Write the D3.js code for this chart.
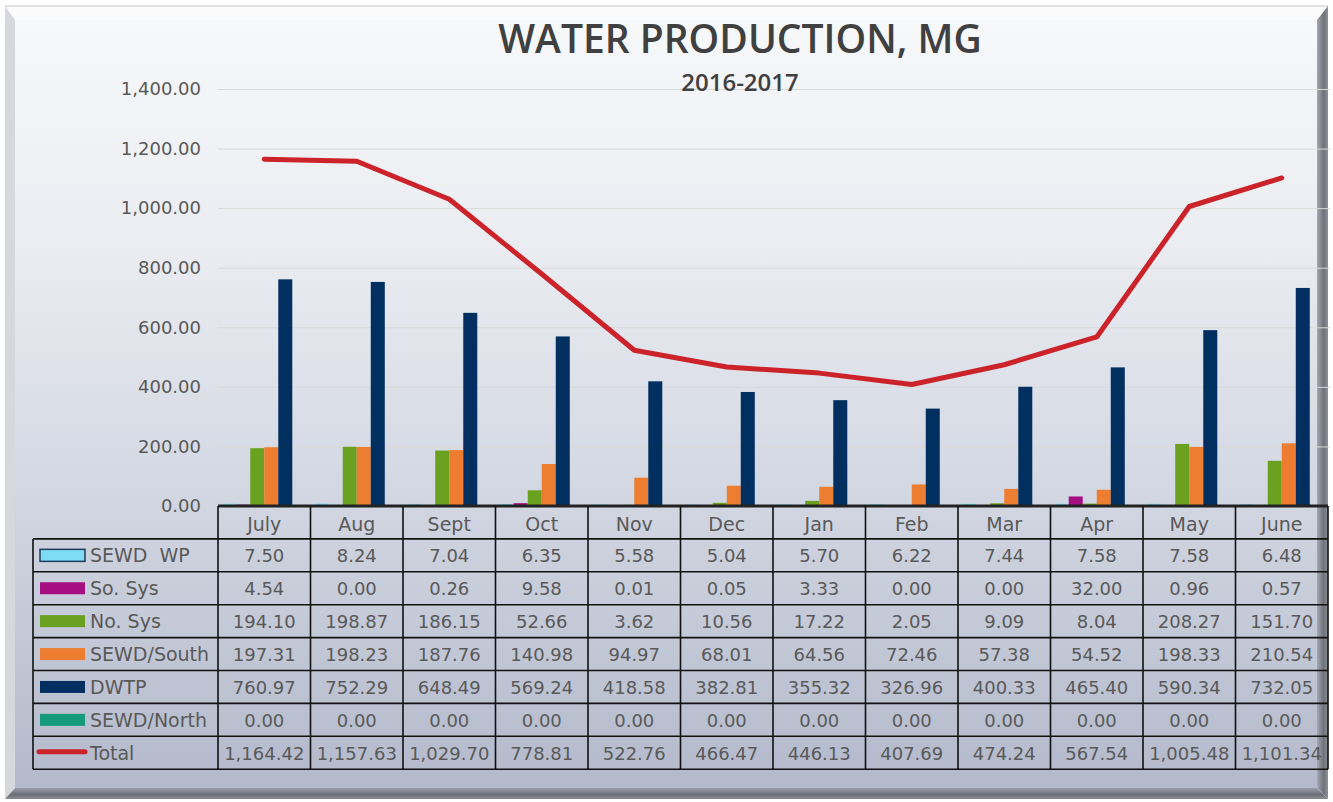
<!DOCTYPE html>
<html>
<head>
<meta charset="utf-8">
<script src="https://cdn.jsdelivr.net/npm/d3@7"></script>
<style>
  body { margin: 0; background: #fff; }
  text { font-family: 'DejaVu Sans', sans-serif; }
</style>
</head>
<body>
<div id="svg"></div>
<script>
let months = ['July', 'Aug', 'Sept', 'Oct', 'Nov', 'Dec', 'Jan', 'Feb', 'Mar', 'Apr', 'May', 'June']
let seriesNames = ['SEWD  WP', 'So. Sys', 'No. Sys', 'SEWD/South', 'DWTP', 'SEWD/North']
let sewdWP = [7.50, 8.24, 7.04, 6.35, 5.58, 5.04, 5.70, 6.22, 7.44, 7.58, 7.58, 6.48]
let soSys = [4.54, 0.00, 0.26, 9.58, 0.01, 0.05, 3.33, 0.00, 0.00, 32.00, 0.96, 0.57]
let noSys = [194.10, 198.87, 186.15, 52.66, 3.62, 10.56, 17.22, 2.05, 9.09, 8.04, 208.27, 151.70]
let sewdSouth = [197.31, 198.23, 187.76, 140.98, 94.97, 68.01, 64.56, 72.46, 57.38, 54.52, 198.33, 210.54]
let dwtp = [760.97, 752.29, 648.49, 569.24, 418.58, 382.81, 355.32, 326.96, 400.33, 465.40, 590.34, 732.05]
let sewdNorth = [0, 0, 0, 0, 0, 0, 0, 0, 0, 0, 0, 0]
let total = [1164.42, 1157.63, 1029.70, 778.81, 522.76, 466.47, 446.13, 407.69, 474.24, 567.54, 1005.48, 1101.34]
let yTicks = [0, 200, 400, 600, 800, 1000, 1200, 1400]

let seriesValues = [sewdWP, soSys, noSys, sewdSouth, dwtp, sewdNorth]
let colors = ['#7fdcf5', '#a50f82', '#6aa121', '#ed7d31', '#002f60', '#159b7c']
let lineColor = '#cc2229'

let W = 1333, H = 802
let plot = {left: 218, right: 1328, top: 89, bottom: 506}
let rowH = 32.9
let tableTop = plot.bottom

let svg = d3.select('#svg')
.append('svg')
.attr('width', W)
.attr('height', H)

let defs = svg.append('defs')
let grad = defs.append('linearGradient').attr('id', 'face').attr('x1', 0).attr('y1', 0).attr('x2', 0).attr('y2', 1)
grad.append('stop').attr('offset', '0%').attr('stop-color', '#f7f8fa')
grad.append('stop').attr('offset', '30%').attr('stop-color', '#eaecf1')
grad.append('stop').attr('offset', '60%').attr('stop-color', '#d4d8e3')
grad.append('stop').attr('offset', '100%').attr('stop-color', '#b3b9cb')

let gRight = defs.append('linearGradient').attr('id', 'bevR').attr('x1', 0).attr('y1', 0).attr('x2', 1).attr('y2', 0)
gRight.append('stop').attr('offset', '0%').attr('stop-color', '#a5a8b0')
gRight.append('stop').attr('offset', '60%').attr('stop-color', '#6f7279')
gRight.append('stop').attr('offset', '100%').attr('stop-color', '#8d9096')

let gBot = defs.append('linearGradient').attr('id', 'bevB').attr('x1', 0).attr('y1', 0).attr('x2', 0).attr('y2', 1)
gBot.append('stop').attr('offset', '0%').attr('stop-color', '#9a9eaa')
gBot.append('stop').attr('offset', '60%').attr('stop-color', '#6c6f78')
gBot.append('stop').attr('offset', '100%').attr('stop-color', '#8a8c92')

// frame with bevel
let fx0 = 5, fy0 = 6, fx1 = 1328, fy1 = 799
let ix0 = 15, iy0 = 20, ix1 = 1317, iy1 = 788
svg.append('polygon').attr('points', `${fx0},${fy0} ${fx1},${fy0} ${ix1},${iy0} ${ix0},${iy0}`).attr('fill', '#fbfbfc')
svg.append('polygon').attr('points', `${fx0},${fy0} ${ix0},${iy0} ${ix0},${iy1} ${fx0},${fy1}`).attr('fill', '#d6d8de')
svg.append('polygon').attr('points', `${fx1},${fy0} ${fx1},${fy1} ${ix1},${iy1} ${ix1},${iy0}`).attr('fill', 'url(#bevR)')
svg.append('polygon').attr('points', `${fx0},${fy1} ${ix0},${iy1} ${ix1},${iy1} ${fx1},${fy1}`).attr('fill', 'url(#bevB)')
svg.append('rect').attr('x', ix0).attr('y', iy0).attr('width', ix1 - ix0).attr('height', iy1 - iy0).attr('fill', 'url(#face)')
svg.append('line').attr('x1', fx0).attr('x2', fx1).attr('y1', fy0).attr('y2', fy0).style('stroke', '#c6c6c6')

// scales
let x = d3.scaleBand()
.domain(months)
.range([plot.left, plot.right])

let xs = d3.scaleBand()
.domain(seriesNames)
.range([0, x.bandwidth()])
.paddingOuter(0.3)

let y = d3.scaleLinear()
.domain([0, 1400])
.range([plot.bottom, plot.top])

// gridlines and y labels
svg.append('g')
.attr('transform', `translate(${plot.left}, 0)`)
.call(d3.axisLeft(y).tickValues(yTicks).tickSize(-(1330 - plot.left)).tickFormat(d3.format(',.2f')).tickPadding(17))
.call(g => g.select('.domain').remove())
.call(g => g.selectAll('line').style('stroke', '#d9d9d9'))
.call(g => g.selectAll('text').style('font-size', '18px').style('fill', '#595959').style('font-family', 'DejaVu Sans'))

// title
svg.append('text')
.text('WATER PRODUCTION, MG')
.attr('x', 740).attr('y', 53)
.style('text-anchor', 'middle')
.style('font-family', 'Open Sans')
.style('font-weight', 600)
.style('font-size', '39px')
.style('fill', '#404040')

svg.append('text')
.text('2016-2017')
.attr('x', 740).attr('y', 91)
.style('text-anchor', 'middle')
.style('font-family', 'Open Sans')
.style('font-weight', 600)
.style('font-size', '24px')
.style('fill', '#404040')

// bars
let barData = []
seriesNames.forEach((s, i) => {
	months.forEach((m, j) => barData.push({series: s, month: m, value: seriesValues[i][j], color: colors[i]}))
})

svg.selectAll('.bar')
.data(barData)
.join('rect')
.attr('class', 'bar')
.attr('x', d => x(d.month) + xs(d.series))
.attr('width', xs.bandwidth())
.attr('y', d => y(d.value))
.attr('height', d => y(0) - y(d.value))
.style('fill', d => d.color)

// total line
let lineFunc = d3.line()
.x((d, i) => x(months[i]) + x.bandwidth() / 2)
.y(d => y(d))

svg.append('path')
.datum(total)
.attr('d', lineFunc)
.style('fill', 'none')
.style('stroke', lineColor)
.style('stroke-width', 5)
.style('stroke-linecap', 'round')
.style('stroke-linejoin', 'round')

// data table
let tableLeft = 33
let rows = seriesNames.concat(['Total'])
let rowValues = seriesValues.concat([total])
let table = svg.append('g')

// header row
table.selectAll('.month')
.data(months)
.join('text')
.attr('class', 'month')
.text(d => d)
.attr('x', d => x(d) + x.bandwidth() / 2)
.attr('y', tableTop + rowH / 2 + 9)
.style('text-anchor', 'middle')
.style('font-size', '19px')
.style('fill', '#595959')

let fmt = d3.format(',.2f')
rows.forEach((r, i) => {
	let ry = tableTop + rowH * (i + 1)
	let cy = ry + rowH / 2
	if (i < seriesNames.length) {
		table.append('rect')
		.attr('x', 40).attr('y', cy - 6).attr('width', 45).attr('height', 12)
		.style('fill', colors[i])
		.style('stroke', i === 0 ? '#1f3b5c' : 'none')
		.style('stroke-width', 1.5)
	} else {
		table.append('line')
		.attr('x1', 39).attr('x2', 85).attr('y1', cy - 1).attr('y2', cy - 1)
		.style('stroke', lineColor).style('stroke-width', 5).style('stroke-linecap', 'round')
	}
	table.append('text')
	.text(r)
	.attr('x', 90).attr('y', cy + 7)
	.style('font-size', '19px')
	.style('fill', '#595959')
	.style('white-space', 'pre')

	table.selectAll(`.val${i}`)
	.data(rowValues[i])
	.join('text')
	.attr('class', `val${i}`)
	.text(d => fmt(d))
	.attr('x', (d, j) => x(months[j]) + x.bandwidth() / 2)
	.attr('y', cy + 7)
	.style('text-anchor', 'middle')
	.style('font-size', '18px')
	.style('fill', '#595959')
})

// grid lines of table
let tableBottom = tableTop + rowH * (rows.length + 1)
let gridStyle = s => s.style('stroke', '#111').style('stroke-width', 1.6)
table.append('line').attr('x1', plot.left).attr('x2', plot.right).attr('y1', tableTop).attr('y2', tableTop)
.style('stroke', '#222').style('stroke-width', 3)
for (let i = 1; i <= rows.length + 1; i++) {
	table.append('line').attr('x1', tableLeft).attr('x2', plot.right)
	.attr('y1', tableTop + rowH * i).attr('y2', tableTop + rowH * i).call(gridStyle)
}
table.append('line').attr('x1', tableLeft).attr('x2', tableLeft).attr('y1', tableTop + rowH).attr('y2', tableBottom).call(gridStyle)
months.forEach(m => {
	table.append('line').attr('x1', x(m)).attr('x2', x(m)).attr('y1', tableTop).attr('y2', tableBottom).call(gridStyle)
})
table.append('line').attr('x1', plot.right).attr('x2', plot.right).attr('y1', tableTop).attr('y2', tableBottom).call(gridStyle)
</script>
</body>
</html>
